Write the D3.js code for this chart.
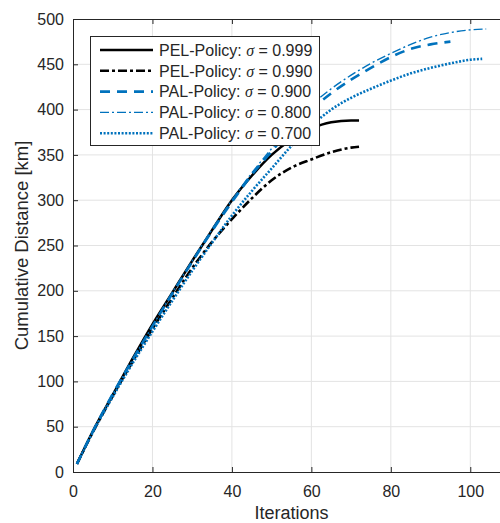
<!DOCTYPE html>
<html>
<head>
<meta charset="utf-8">
<script src="https://cdn.jsdelivr.net/npm/d3@7"></script>
<style>
  body { margin: 0; background: #fff; }
  text { font-family: "Liberation Sans", Arial, sans-serif; fill: #262626; }
</style>
</head>
<body>
<div id="chart"></div>
<script>
/* DATA */
const xTicks = [0, 20, 40, 60, 80, 100];
const yTicks = [0, 50, 100, 150, 200, 250, 300, 350, 400, 450, 500];

const pel999 = [[1, 9], [5, 45], [10, 85], [15, 125], [20, 163], [25, 198], [30, 233], [35, 267], [40, 300], [45, 327], [50, 350], [55, 367], [60, 379], [65, 386], [70, 388], [72, 388]];
const pel990 = [[1, 9], [5, 44], [10, 84], [15, 122], [20, 158], [25, 192], [30, 225], [35, 254], [40, 279], [45, 302], [50, 322], [55, 336], [60, 345], [65, 353], [70, 358], [72, 359]];
const pal900 = [[1, 9], [5, 45], [10, 86], [15, 124], [20, 161], [25, 197], [30, 232], [35, 266], [40, 298], [45, 328], [50, 354], [55, 379], [60, 400], [65, 418], [70, 433], [75, 446], [80, 458], [85, 467], [90, 472], [95, 475]];
const pal800 = [[1, 9], [5, 45], [10, 86], [15, 124], [20, 161], [25, 198], [30, 233], [35, 268], [40, 300], [45, 330], [50, 357], [55, 382], [60, 405], [65, 423], [70, 438], [75, 451], [80, 462], [85, 472], [90, 480], [95, 485], [100, 488], [104, 489]];
const pal700 = [[1, 9], [5, 44], [10, 83], [15, 120], [20, 155], [25, 189], [30, 222], [35, 253], [40, 283], [45, 310], [50, 335], [55, 360], [60, 382], [65, 400], [70, 413], [75, 423], [80, 432], [85, 440], [90, 446], [95, 451], [100, 455], [103, 456]];

const seriesNames = ["PEL-Policy: ", "PEL-Policy: ", "PAL-Policy: ", "PAL-Policy: ", "PAL-Policy: "];
const sigmaLabels = ["0.999", "0.990", "0.900", "0.800", "0.700"];

/* CONSTANTS */
const width = 500, height = 523;
const margin = { top: 19, left: 73, bottom: 51, right: -10 };
const blue = "#0072BD";

const styles = [
  { color: "#000", w: 2.6, dash: null },
  { color: "#000", w: 2.6, dash: "9,3,3,3" },
  { color: blue, w: 2.6, dash: "10,7" },
  { color: blue, w: 1.4, dash: "9,3,2,3" },
  { color: blue, w: 2.6, dash: "2,1.6" }
];
const series = [pel999, pel990, pal900, pal800, pal700];

const svg = d3.select("#chart").append("svg")
  .attr("width", width)
  .attr("height", height);

const x = d3.scaleLinear().domain([0, 110]).range([margin.left, width - margin.right]);
const y = d3.scaleLinear().domain([0, 500]).range([height - margin.bottom, margin.top]);

// grid
svg.append("g").selectAll("line").data(xTicks.slice(1)).join("line")
  .attr("x1", d => x(d)).attr("x2", d => x(d))
  .attr("y1", y(0)).attr("y2", y(500))
  .attr("stroke", "#e3e3e3").attr("stroke-width", 1);
svg.append("g").selectAll("line").data(yTicks.slice(1, -1)).join("line")
  .attr("x1", x(0)).attr("x2", x(110))
  .attr("y1", d => y(d)).attr("y2", d => y(d))
  .attr("stroke", "#e3e3e3").attr("stroke-width", 1);

// axes
const xAxis = svg.append("g")
  .attr("transform", `translate(0,${y(0)})`)
  .call(d3.axisBottom(x).tickValues(xTicks).tickSizeInner(-5).tickSizeOuter(0).tickPadding(14));
const yAxis = svg.append("g")
  .attr("transform", `translate(${x(0)},0)`)
  .call(d3.axisLeft(y).tickValues(yTicks).tickSizeInner(-5).tickSizeOuter(0).tickPadding(9));
svg.append("g")
  .attr("transform", `translate(0,${y(500)})`)
  .call(d3.axisTop(x).tickValues(xTicks).tickSizeInner(-5).tickSizeOuter(0).tickFormat(""));

[xAxis, yAxis].forEach(a => {
  a.selectAll("text").style("font-size", "16px").attr("fill", "#333")
    .style("font-family", "'Liberation Sans', Arial, sans-serif");
});
svg.selectAll(".domain, .tick line").attr("stroke", "#262626");

// lines
svg.append("clipPath").attr("id", "clip").append("rect")
  .attr("x", x(0)).attr("y", y(500)).attr("width", x(110) - x(0)).attr("height", y(0) - y(500));

const line = d3.line().x(d => x(d[0])).y(d => y(d[1])).curve(d3.curveMonotoneX);
svg.append("g").attr("clip-path", "url(#clip)")
  .selectAll("path").data(series).join("path")
  .attr("d", line)
  .attr("fill", "none")
  .attr("stroke", (d, i) => styles[i].color)
  .attr("stroke-width", (d, i) => styles[i].w)
  .attr("stroke-dasharray", (d, i) => styles[i].dash);

// labels
svg.append("text")
  .attr("x", (x(0) + x(110)) / 2).attr("y", 519)
  .attr("text-anchor", "middle")
  .style("font-size", "18px")
  .text("Iterations");
svg.append("text")
  .attr("transform", `translate(28,${(y(0) + y(500)) / 2}) rotate(-90)`)
  .attr("text-anchor", "middle")
  .style("font-size", "18.5px")
  .text("Cumulative Distance [km]");

// legend
const legend = svg.append("g");
legend.append("rect")
  .attr("x", 90.5).attr("y", 36.5).attr("width", 229).attr("height", 109)
  .attr("fill", "#fff").attr("stroke", "#262626").attr("stroke-width", 1);
const rows = legend.selectAll("g.row").data(sigmaLabels).join("g")
  .attr("class", "row")
  .attr("transform", (d, i) => `translate(0,${50 + i * 20.8})`);
rows.append("line")
  .attr("x1", 100).attr("x2", 153)
  .attr("stroke", (d, i) => styles[i].color)
  .attr("stroke-width", (d, i) => styles[i].w)
  .attr("stroke-dasharray", (d, i) => styles[i].dash);
const lt = rows.append("text")
  .attr("x", 159).attr("y", 5.8)
  .style("font-size", "16px");
lt.append("tspan").text((d, i) => seriesNames[i]);
lt.append("tspan").style("font-style", "italic").style("font-family", "'Liberation Serif', serif").text("σ");
lt.append("tspan").text(d => " = " + d);
</script>
</body>
</html>
